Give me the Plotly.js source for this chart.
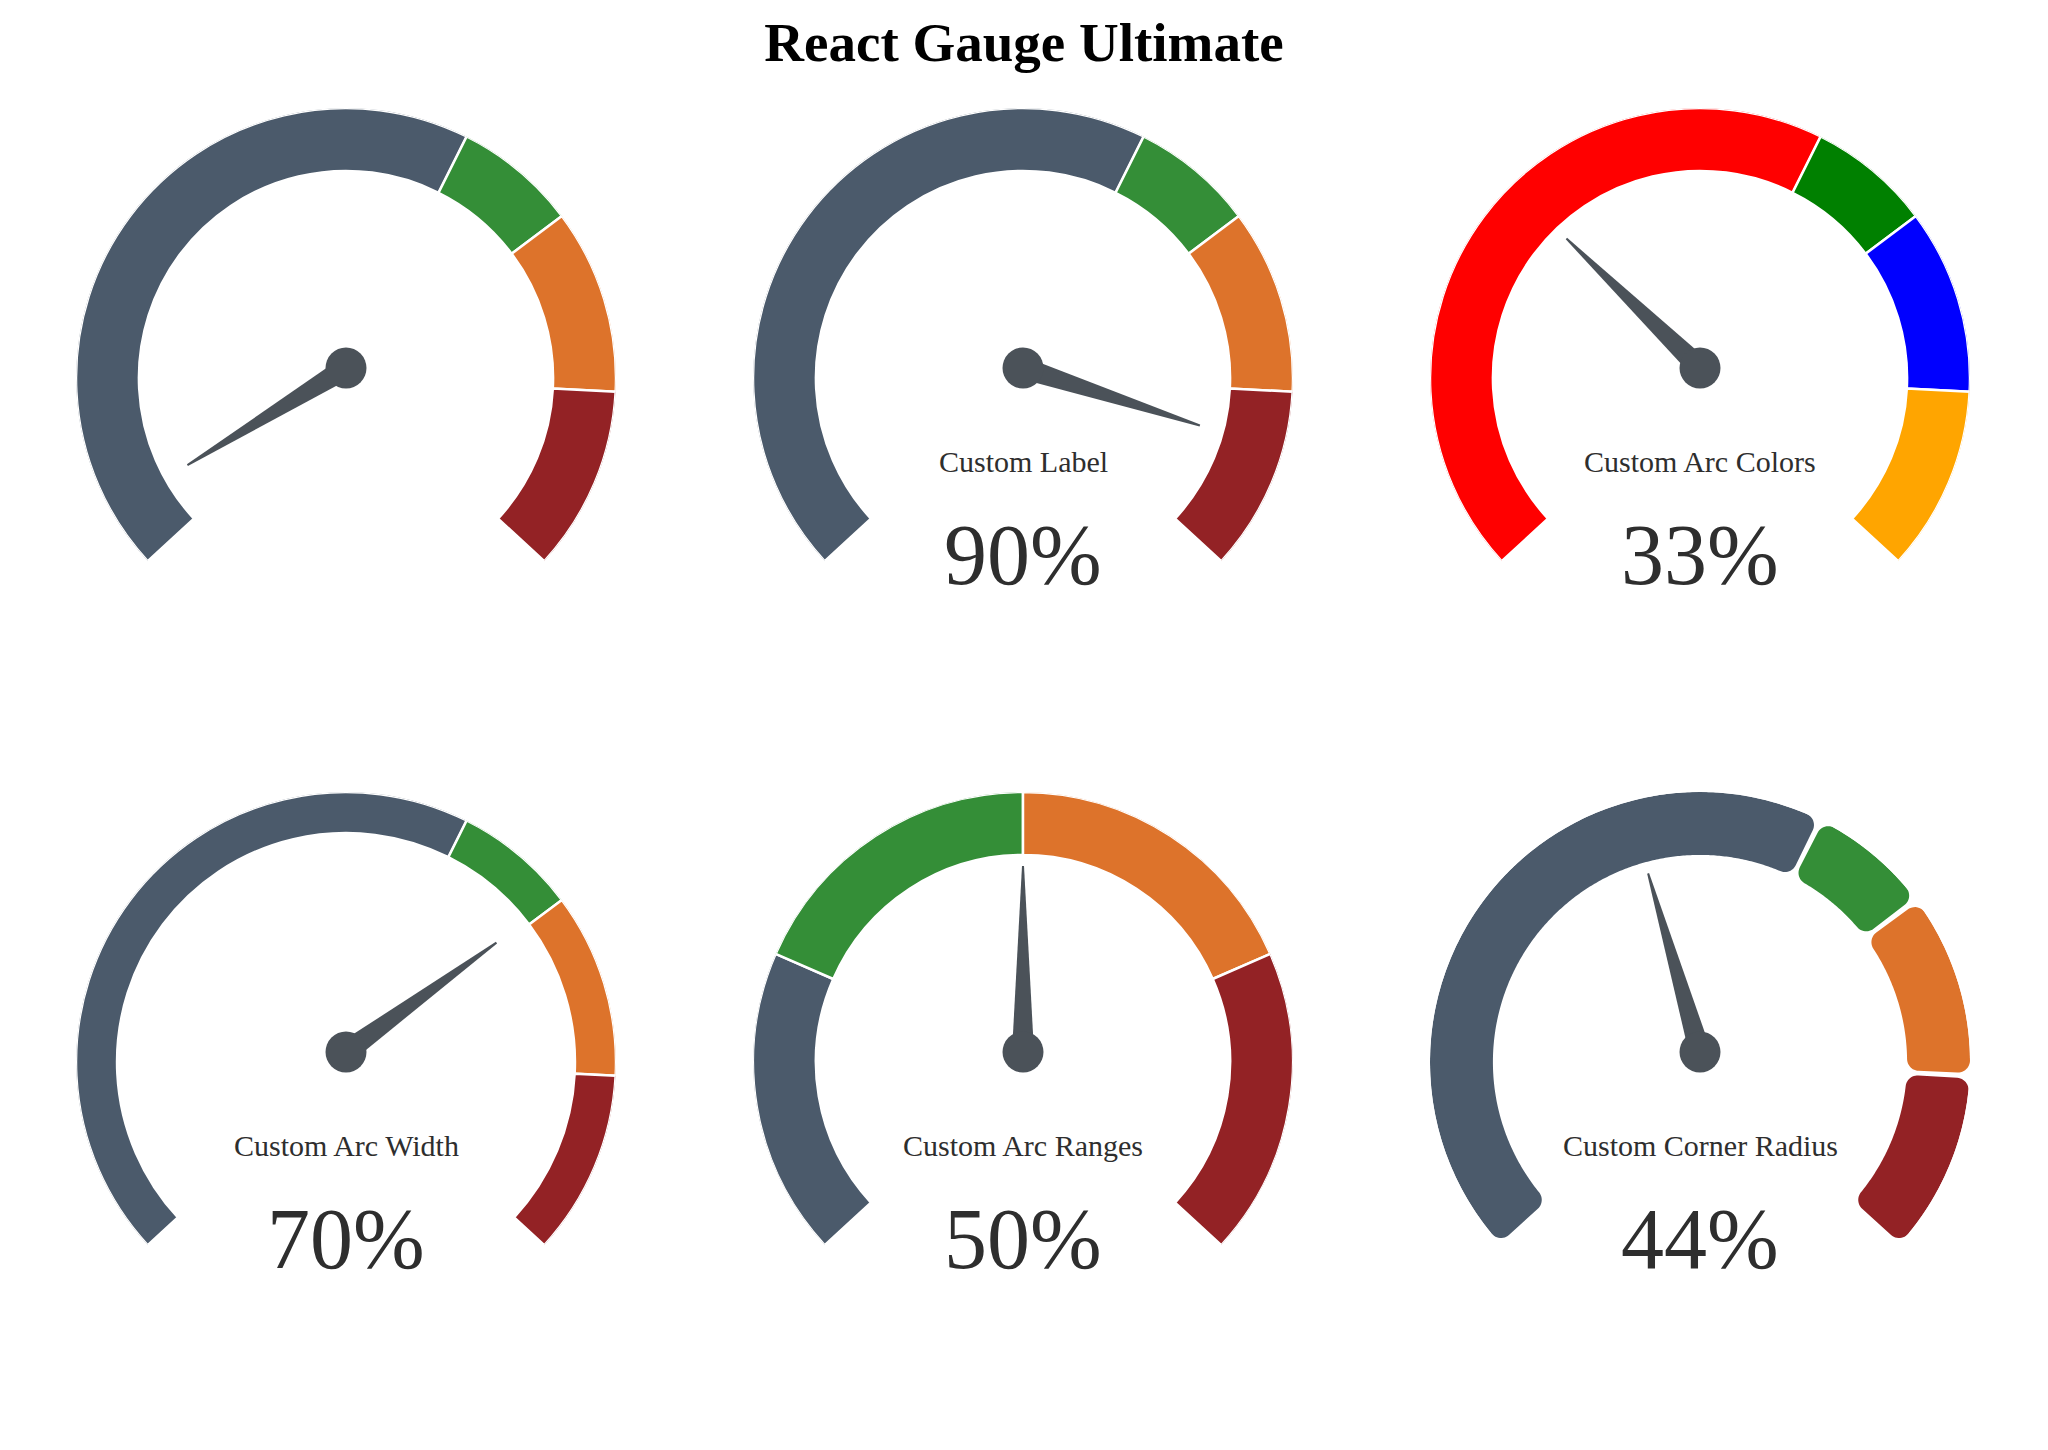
<!DOCTYPE html>
<html>
<head>
<meta charset="utf-8">
<script src="https://cdn.plot.ly/plotly-3.0.1.min.js"></script>
<style>
  html, body { margin: 0; padding: 0; background: #fff; }
  #chart { width: 2048px; height: 1450px; }
</style>
</head>
<body>
<div id="chart"></div>
<script>
const CHART = document.getElementById('chart');
const W = 2048, H = 1450;

// gauge values
const gaugeLabels = ['', 'Custom Label', 'Custom Arc Colors', 'Custom Arc Width', 'Custom Arc Ranges', 'Custom Corner Radius'];
const gaugeValues = [5, 90, 33, 70, 50, 44];
const showValue = [false, true, true, true, true, true];

// sub arcs (upper limit of each arc, in %)
const defaultLimits = [60, 70, 85, 100];
const rangeLimits = [25, 50, 75, 100];
const defaultColors = ['#4b5a6b', '#348e37', '#dd732b', '#932225'];
const customColors = ['#ff0000', '#008000', '#0000ff', '#ffa500'];

const arcLimits = [defaultLimits, defaultLimits, defaultLimits, defaultLimits, rangeLimits, defaultLimits];
const arcColors = [defaultColors, defaultColors, customColors, defaultColors, defaultColors, defaultColors];
const arcWidths = [0.233, 0.233, 0.233, 0.152, 0.233, 0.233];
const cornerRadius = [0, 0, 0, 0, 0, 12];   // px

// geometry (px)
const R = 270;
const colX = [346, 1023, 1700];
const rowY = [378, 1062];
const ARC_SWEEP = 265.5;       // the coloured band stops a little short of the needle range
const NEEDLE_SWEEP = 270;
const pivotUp = 10 / R;        // the needle hub sits a bit above the arc centre
const needleLen = 186 / R;
const needleHalf = 11 / R;
const hubSize = 41;
const needleColor = '#4b5259';
const textColor = '#2e2e2e';
const FONT = 'Liberation Serif, Times New Roman, serif';

function arcTheta(v) { return -ARC_SWEEP / 2 + ARC_SWEEP * v / 100; }
function needleTheta(v) { return -NEEDLE_SWEEP / 2 + NEEDLE_SWEEP * v / 100; }

// cartesian (y up, units of outer radius) -> [r, theta clockwise from top]
function toPolar(x, y) {
    return [Math.hypot(x, y), 90 - Math.atan2(y, x) * 180 / Math.PI];
}

// annular sector with rounded corners, as a closed outline
function roundedArc(v0, v1, ri, ro, c, padDeg) {
    const t0 = arcTheta(v0) + padDeg / 2, t1 = arcTheta(v1) - padDeg / 2;
    const p0 = (90 - t0) * Math.PI / 180, p1 = (90 - t1) * Math.PI / 180;
    const dO = Math.asin(c / (ro - c)), dI = Math.asin(c / (ri + c));
    const h = Math.PI / 2;
    const pts = [];
    function corner(rc, pc, a0, a1) {
        const cx = rc * Math.cos(pc), cy = rc * Math.sin(pc);
        for (let k = 0; k <= 12; k++) {
            const a = a0 + (a1 - a0) * k / 12;
            pts.push([cx + c * Math.cos(a), cy + c * Math.sin(a)]);
        }
    }
    function arc(r, a0, a1) {
        const n = Math.max(2, Math.ceil(Math.abs(a1 - a0) / (Math.PI / 360)));
        for (let k = 0; k <= n; k++) {
            const a = a0 + (a1 - a0) * k / n;
            pts.push([r * Math.cos(a), r * Math.sin(a)]);
        }
    }
    corner(ro - c, p0 - dO, p0 + h, p0 - dO);
    arc(ro, p0 - dO, p1 + dO);
    corner(ro - c, p1 + dO, p1 + dO, p1 - h);
    corner(ri + c, p1 + dI, p1 - h, p1 + dI - Math.PI);
    arc(ri, p1 + dI, p0 - dI);
    corner(ri + c, p0 - dI, p0 - dI + Math.PI, p0 + h);
    pts.push(pts[0]);
    return pts.map(p => toPolar(p[0], p[1]));
}

let data = [];
let layout = {
    width: W,
    height: H,
    margin: { l: 0, r: 0, t: 0, b: 0 },
    paper_bgcolor: '#fff',
    showlegend: false,
    title: {
        text: 'React Gauge Ultimate',
        font: { family: FONT, size: 55, color: '#000', weight: 700 },
        x: 0.5, xanchor: 'center',
        y: 1 - 42 / H, yanchor: 'middle',
        xref: 'paper', yref: 'paper'
    },
    annotations: []
};

for (let i = 0; i < gaugeValues.length; i++) {
    const cx = colX[i % 3], cy = rowY[Math.floor(i / 3)];
    const sub = 'polar' + (i ? i + 1 : '');
    const lims = arcLimits[i];
    const starts = [0].concat(lims.slice(0, -1));
    const inner = 1 - arcWidths[i];

    layout[sub] = {
        domain: { x: [(cx - R) / W, (cx + R) / W], y: [1 - (cy + R) / H, 1 - (cy - R) / H] },
        bgcolor: 'rgba(0,0,0,0)',
        radialaxis: { visible: false, range: [0, 1] },
        angularaxis: { visible: false, rotation: 90, direction: 'clockwise' }
    };

    if (cornerRadius[i] > 0) {
        lims.forEach((lim, k) => {
            const pts = roundedArc(starts[k], lim, inner, 1, cornerRadius[i] / R, 1.2);
            data.push({
                type: 'scatterpolar', subplot: sub, mode: 'lines', fill: 'toself',
                r: pts.map(p => p[0]), theta: pts.map(p => p[1]),
                fillcolor: arcColors[i][k], line: { width: 0, color: arcColors[i][k] },
                hoverinfo: 'skip'
            });
        });
    } else {
        data.push({
            type: 'barpolar', subplot: sub,
            theta: lims.map((lim, k) => arcTheta((starts[k] + lim) / 2)),
            width: lims.map((lim, k) => ARC_SWEEP * (lim - starts[k]) / 100),
            base: lims.map(() => inner),
            r: lims.map(() => arcWidths[i]),
            marker: { color: arcColors[i], line: { color: '#fff', width: 2.5 } },
            hoverinfo: 'skip'
        });
    }

    // needle
    const t = needleTheta(gaugeValues[i]) * Math.PI / 180;
    const dx = Math.sin(t), dy = Math.cos(t);
    const px = Math.cos(t), py = -Math.sin(t);
    const tipX = needleLen * dx, tipY = pivotUp + needleLen * dy;
    const tw = 1 / R;
    const needle = [
        toPolar(needleHalf * px, pivotUp + needleHalf * py),
        toPolar(tipX + tw * px, tipY + tw * py),
        toPolar(tipX - tw * px, tipY - tw * py),
        toPolar(-needleHalf * px, pivotUp - needleHalf * py)
    ];
    needle.push(needle[0]);
    data.push({
        type: 'scatterpolar', subplot: sub, mode: 'lines', fill: 'toself',
        r: needle.map(p => p[0]), theta: needle.map(p => p[1]),
        fillcolor: needleColor, line: { width: 0, color: needleColor },
        hoverinfo: 'skip'
    });
    data.push({
        type: 'scatterpolar', subplot: sub, mode: 'markers',
        r: [pivotUp], theta: [0],
        marker: { size: hubSize, color: needleColor, line: { width: 0 } },
        hoverinfo: 'skip'
    });

    if (gaugeLabels[i]) {
        layout.annotations.push({
            text: gaugeLabels[i], showarrow: false,
            xref: 'paper', yref: 'paper',
            x: cx / W, y: 1 - (cy + 83) / H, xanchor: 'center', yanchor: 'middle',
            font: { family: FONT, size: 30, color: textColor }
        });
    }
    if (showValue[i]) {
        layout.annotations.push({
            text: gaugeValues[i] + '%', showarrow: false,
            xref: 'paper', yref: 'paper',
            x: cx / W, y: 1 - (cy + 177) / H, xanchor: 'center', yanchor: 'middle',
            font: { family: FONT, size: 86, color: textColor }
        });
    }
}

Plotly.newPlot(CHART, data, layout, { staticPlot: true });
</script>
</body>
</html>
